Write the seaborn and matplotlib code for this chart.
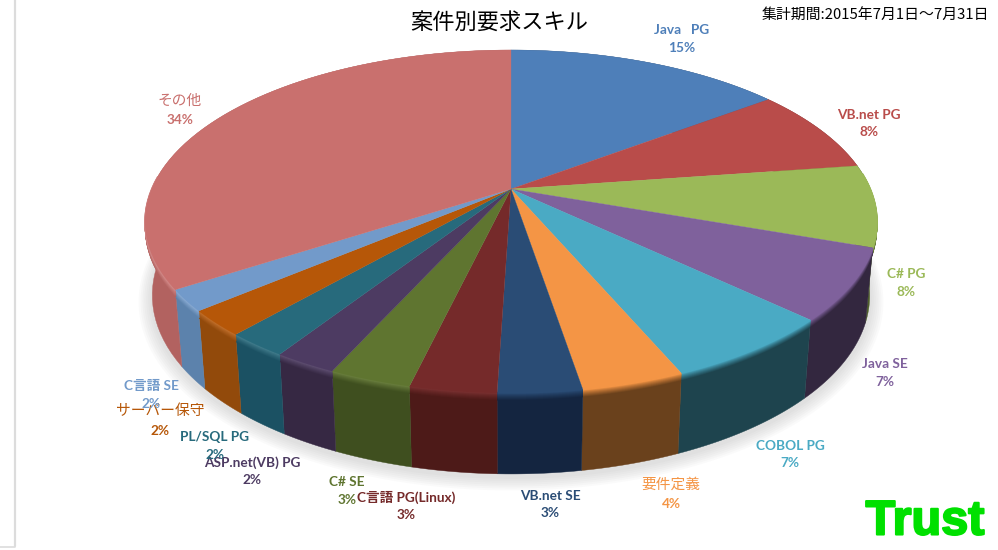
import numpy as np
import matplotlib
matplotlib.use('Agg')
import matplotlib.pyplot as plt
import matplotlib.patheffects as pe
import seaborn as sns

# shares (labels show them rounded)
skills = ['Java   PG', 'VB.net PG', 'C# PG', 'Java SE', 'COBOL PG', '要件定義', 'VB.net SE',
          'C言語 PG(Linux)', 'C# SE', 'ASP.net(VB) PG', 'PL/SQL PG', 'サーバー保守', 'C言語 SE', 'その他']
shares = [14.7, 8.0, 7.7, 6.7, 6.5, 3.8, 3.1, 3.2, 3.05, 2.35, 2.3, 2.4, 2.0, 34.2]
percents = ['15%', '8%', '8%', '7%', '7%', '4%', '3%', '3%', '3%', '2%', '2%', '2%', '2%', '34%']

top_colors = ['#4e7fb9', '#b94c4a', '#9bb958', '#7f619c', '#4aaac4', '#f49545', '#2a4c75',
              '#752a2a', '#5f7530', '#4d3b62', '#276a7c', '#b65708', '#729aca', '#c9706e']
side_colors = ['#35567e', '#7e3432', '#4f5f2b', '#33273f', '#1e444e', '#6a411c', '#142540',
               '#4d1a18', '#3f4f1f', '#362843', '#1b5163', '#924a0b', '#5c82ac', '#b26260']

# label centres in pixels, name line and percent line
label_x = [682, 869, 906, 885, 790, 671, 550, 406, 347, 252, 215, 160, 151, 180]
name_y = [30, 115, 274, 364, 446, 485, 496, 497, 482, 463, 437, 411, 386, 101]
pct_y = [48, 132, 292, 382, 463, 504, 513, 515, 500, 480, 455, 431, 404, 120]

# perspective of the pie top
cx, cy = 511, 189
A, B, k = 359.4, 165.3, 0.1895
depth = 72


def project(theta):
    u, v = np.sin(theta), -np.cos(theta)
    w = 1 - k * v
    return cx + A * u / w, cy + B * v / w, v


def lower(x, y, v):
    return cx + 0.98 * (x - cx), y + depth + 9 * v


def mix(c1, c2, t):
    a, b = np.array(matplotlib.colors.to_rgb(c1)), np.array(matplotlib.colors.to_rgb(c2))
    return tuple(np.clip(a * (1 - t) + b * t, 0, 1))


sns.set_theme(style='white')
plt.rcParams['font.family'] = ['Lato', 'Noto Sans CJK JP', 'DejaVu Sans']

fig = plt.figure(figsize=(9.98, 5.5), dpi=100, facecolor='white')
ax = fig.add_axes([0, 0, 1, 1])
ax.set_xlim(0, 998)
ax.set_ylim(550, 0)
ax.axis('off')

# frame remains on the left of the screenshot
ax.plot([15.5, 15.5], [0, 546], color='#dcdcdc', lw=1.6)
ax.plot([0, 15.5], [546.5, 546.5], color='#dcdcdc', lw=1.2)

edges = np.radians(np.cumsum([0] + shares) * 3.6)
top_palette = sns.color_palette(top_colors)
side_palette = sns.color_palette(side_colors)

# soft shadow under the pie
ring = np.linspace(0, 2 * np.pi, 360)
rx, ry, rv = project(ring)
bx, by = lower(rx, ry, rv)
for grow in np.arange(14, 0, -2):
    ax.fill(cx + (bx - cx) * (1 + grow / 366), by + 3 + (by - 223) * grow / 260,
            color='#808080', alpha=0.035, lw=0, zorder=1)

# side walls
for i in range(len(shares)):
    th = np.linspace(edges[i], edges[i + 1], 60)
    x, y, v = project(th)
    xb, yb = lower(x, y, v)
    ax.fill(np.r_[x, xb[::-1]], np.r_[y, yb[::-1]], color=side_palette[i], lw=0.3, zorder=2)

# bevel along the front rim
for i in range(len(shares)):
    th = np.linspace(edges[i], edges[i + 1], 60)
    x, y, v = project(th)
    keep = v > -0.1
    if keep.sum() < 2:
        continue
    mid = np.sin(th.mean())
    glow = mix(top_palette[i], '#ffffff', 0.2 * max(0.0, -mid))
    for d in np.arange(7, -0.5, -0.5):
        t = min(d / 7, 1) ** 0.8
        col = mix(glow, side_palette[i], t)
        ax.plot(x[keep] + (cx - x[keep]) * 0.02 * d / depth, y[keep] + d, color=col, lw=1.0,
                solid_capstyle='butt', zorder=3)

# top surface
for i in range(len(shares)):
    th = np.linspace(edges[i], edges[i + 1], 120)
    x, y, v = project(th)
    ax.fill(np.r_[cx, x], np.r_[cy, y], color=top_palette[i], lw=0.2, zorder=4)

# labels
for name, pct, xp, yn, yp, col in zip(skills, percents, label_x, name_y, pct_y, top_colors):
    jp_only = not any(c.isascii() and c.isalpha() for c in name)
    ax.text(xp, yn, name, color=col, ha='center', va='center', zorder=6,
            fontsize=10.6 if jp_only else 9.8, fontweight='normal' if jp_only else 'bold')
    ax.text(xp, yp, pct, color=col, ha='center', va='center', fontsize=9.8, fontweight='bold', zorder=6)

ax.text(499, 22, '案件別要求スキル', color='black', ha='center', va='center', fontsize=16,
        family=['Noto Sans CJK JP', 'DejaVu Sans'], zorder=6)
ax.text(989, 15, '集計期間:2015年7月1日～7月31日', color='black', ha='right', va='center', fontsize=10.7,
        family=['Noto Sans CJK JP', 'DejaVu Sans'], zorder=6)

logo = ax.text(925, 522, 'Trust', color='#00e000', ha='center', va='center', fontsize=35,
               fontweight='bold', family=['Liberation Sans', 'DejaVu Sans'], zorder=6)
logo.set_path_effects([pe.withStroke(linewidth=1.5, foreground='#00e000')])

fig.savefig('out.png', dpi=100, facecolor='white')
